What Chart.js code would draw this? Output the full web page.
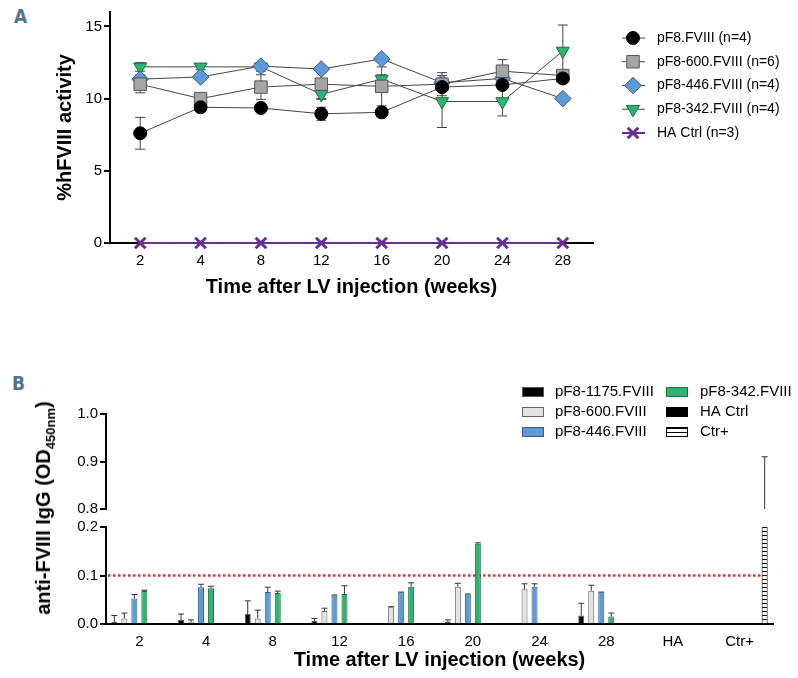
<!doctype html>
<html>
<head>
<meta charset="utf-8">
<title>hFVIII activity and anti-FVIII IgG</title>
<script src="https://cdn.jsdelivr.net/npm/chart.js@4.4.1/dist/chart.umd.min.js"></script>
<style>
  body { margin: 0; background: #fff; }
  #wrap { position: relative; width: 798px; height: 678px; overflow: hidden; font-family: 'Liberation Sans', Arial, sans-serif; }
  #wrap canvas { position: absolute; left: 0; }
  .panel { position: absolute; font-family: 'DejaVu Sans Condensed', 'DejaVu Sans', sans-serif; font-weight: bold; font-size: 19px; color: #4f7391; }
  #ytitleB { position: absolute; left: 45px; top: 508px; transform: translate(-50%, -50%) rotate(-90deg); white-space: nowrap; font-weight: bold; font-size: 20px; color: #000; }
  #ytitleB sub { font-size: 13px; }
</style>
</head>
<body>
<div id="wrap">
  <div class="panel" style="left:14px; top:5px;">A</div>
  <div class="panel" style="left:12px; top:372px;">B</div>
  <canvas id="chartA" width="798" height="310" style="top:0px"></canvas>
  <canvas id="chartB2" width="798" height="163" style="top:515px"></canvas>
  <canvas id="chartB1" width="798" height="140" style="top:380px"></canvas>
  <div id="ytitleB">anti-FVIII IgG (OD<sub>450nm</sub>)</div>
</div>
<script>
// ---- panel A : %hFVIII activity ----
var weeks = ['2', '4', '8', '12', '16', '20', '24', '28'];
var activityTicks = [0, 5, 10, 15];

var pF8Act      = [7.6, 9.4, 9.35, 8.95, 9.05, 10.8, 10.95, 11.4];
var pF8Err      = [1.1, 0.2, 0.2, 0.45, 0.3, 0.3, 0.3, 0.3];
var pF8_600Act  = [11.0, 10.0, 10.8, 11.0, 10.85, 11.0, 11.9, 11.6];
var pF8_600Err  = [0.6, 0.3, 0.85, 1.0, 1.35, 0.8, 0.8, 0.3];
var pF8_446Act  = [11.35, 11.5, 12.25, 12.05, 12.75, 11.1, 11.4, 10.0];
var pF8_446Err  = [0.3, 0.2, 0.2, 0.2, 0.2, 0.2, 0.3, 0.2];
var pF8_342Act  = [12.2, 12.2, 12.2, 10.3, 11.35, 9.8, 9.8, 13.3];
var pF8_342Err  = [0.3, 0.2, 0.3, 0.35, 0.3, 1.8, 1.0, 1.8];
var haCtrlAct   = [0, 0, 0, 0, 0, 0, 0, 0];
var haCtrlErr   = [0, 0, 0, 0, 0, 0, 0, 0];

// ---- panel B : anti-FVIII IgG ----
var groupsB = ['2', '4', '8', '12', '16', '20', '24', '28', 'HA', 'Ctr+'];
var upperTicks = [0.8, 0.9, 1.0];
var lowerTicks = [0, 0.1, 0.2];
var cutoff = 0.1;

var igg1175   = [0.005, 0.009, 0.021, 0.007, 0.002, 0.005, 0.002, 0.018, null, null];
var igg1175Sd = [0.013, 0.012, 0.027, 0.005, 0, 0.004, 0, 0.025, 0, 0];
var igg600    = [0.012, 0.004, 0.012, 0.027, 0.035, 0.077, 0.072, 0.069, null, null];
var igg600Sd  = [0.011, 0.005, 0.017, 0.006, 0.001, 0.007, 0.011, 0.011, 0, 0];
var igg446    = [0.053, 0.076, 0.066, 0.059, 0.065, 0.061, 0.077, 0.065, null, null];
var igg446Sd  = [0.008, 0.006, 0.010, 0.001, 0.001, 0.001, 0.006, 0.001, 0, 0];
var igg342    = [0.068, 0.074, 0.064, 0.062, 0.077, 0.165, null, 0.016, null, null];
var igg342Sd  = [0.002, 0.004, 0.004, 0.017, 0.008, 0.002, 0, 0.007, 0, 0];
var iggHA     = [null, null, null, null, null, null, null, null, 0, null];
var iggHASd   = [0, 0, 0, 0, 0, 0, 0, 0, 0, 0];
var iggPos    = [null, null, null, null, null, null, null, null, null, 0.55];
var iggPosSd  = [0, 0, 0, 0, 0, 0, 0, 0, 0, 0.36];

Chart.defaults.font.family = "'Liberation Sans', Arial, sans-serif";
Chart.defaults.color = '#000';

var errA = [pF8Err, pF8_600Err, pF8_446Err, pF8_342Err, haCtrlErr];
var errB = [igg1175Sd, igg600Sd, igg446Sd, igg342Sd, iggHASd, iggPosSd];

function hatch() {
    var c = document.createElement('canvas');
    c.width = 8; c.height = 4;
    var g = c.getContext('2d');
    g.fillStyle = '#fff'; g.fillRect(0, 0, 8, 4);
    g.fillStyle = '#000'; g.fillRect(0, 0, 8, 1);
    return g.createPattern(c, 'repeat');
}

function lineSet(label, data, style, radius, fill, border, bw, rot, lineCol, lineW) {
    return {
        label: label, data: data,
        borderColor: lineCol || '#444', borderWidth: lineW || 1, tension: 0,
        pointStyle: style, pointRadius: radius, pointHoverRadius: radius,
        pointRotation: rot || 0,
        pointBackgroundColor: fill, pointBorderColor: border, pointBorderWidth: bw,
        clip: false
    };
}

// error bars drawn under the markers
var errorBarsA = {
    id: 'errorBarsA',
    beforeDatasetsDraw: function(chart) {
        var ctx = chart.ctx, y = chart.scales.y;
        ctx.save();
        ctx.strokeStyle = '#444';
        ctx.lineWidth = 1;
        chart.data.datasets.forEach(function(ds, i) {
            chart.getDatasetMeta(i).data.forEach(function(pt, j) {
                var e = errA[i][j];
                if (!e) return;
                var t = y.getPixelForValue(ds.data[j] + e);
                var b = y.getPixelForValue(ds.data[j] - e);
                ctx.beginPath();
                ctx.moveTo(pt.x, t); ctx.lineTo(pt.x, b);
                ctx.moveTo(pt.x - 5, t); ctx.lineTo(pt.x + 5, t);
                ctx.moveTo(pt.x - 5, b); ctx.lineTo(pt.x + 5, b);
                ctx.stroke();
            });
        });
        ctx.restore();
    }
};

var legendA = {
    id: 'legendA',
    afterDraw: function(chart) {
        var ctx = chart.ctx;
        ctx.save();
        chart.data.datasets.forEach(function(ds, i) {
            var y = 38 + i * 23.75;
            ctx.strokeStyle = ds.borderColor;
            ctx.lineWidth = ds.borderWidth;
            ctx.beginPath(); ctx.moveTo(622, y); ctx.lineTo(645, y); ctx.stroke();
            ctx.fillStyle = ds.pointBackgroundColor;
            ctx.strokeStyle = ds.pointBorderColor;
            ctx.lineWidth = ds.pointBorderWidth;
            Chart.helpers.drawPoint(ctx, {
                pointStyle: ds.pointStyle, radius: ds.pointRadius,
                rotation: ds.pointRotation, borderWidth: ds.pointBorderWidth
            }, 633, y);
            ctx.fillStyle = '#000';
            ctx.font = "14px 'Liberation Sans', Arial, sans-serif";
            ctx.textBaseline = 'middle';
            ctx.fillText(ds.label, 657, y);
        });
        ctx.restore();
    }
};

new Chart(document.getElementById('chartA').getContext('2d'), {
    type: 'line',
    data: {
        labels: weeks,
        datasets: [
            lineSet('pF8.FVIII (n=4)', pF8Act, 'circle', 6.5, '#000', '#000', 1),
            lineSet('pF8-600.FVIII (n=6)', pF8_600Act, 'rect', 8.8, '#a5a5a8', '#555', 1),
            lineSet('pF8-446.FVIII (n=4)', pF8_446Act, 'rectRot', 8.3, '#5e9bd6', '#2f6199', 1),
            lineSet('pF8-342.FVIII (n=4)', pF8_342Act, 'triangle', 7.6, '#2eb371', '#1d6e44', 1, 180),
            lineSet('HA Ctrl (n=3)', haCtrlAct, 'crossRot', 7.5, '#6b2d90', '#6b2d90', 3, 0, '#6b2d90', 2)
        ]
    },
    options: {
        responsive: false,
        animation: false,
        events: [],
        layout: { padding: { left: 49, right: 205, top: 12, bottom: 7 } },
        plugins: { legend: { display: false }, tooltip: { enabled: false } },
        scales: {
            x: {
                offset: true,
                grid: { display: false, drawTicks: false },
                border: { display: true, color: '#000', width: 2 },
                ticks: { font: { size: 15 }, padding: 9, maxRotation: 0 },
                title: { display: true, text: 'Time after LV injection (weeks)', font: { size: 20, weight: 'bold' } },
                afterFit: function(s) { s.height = 60; }
            },
            y: {
                min: 0, max: 16,
                afterBuildTicks: function(s) { s.ticks = activityTicks.map(function(v) { return { value: v }; }); },
                grid: { drawOnChartArea: false, drawTicks: true, tickLength: 6, color: '#000', lineWidth: 2 },
                border: { display: true, color: '#000', width: 2 },
                ticks: { font: { size: 15 }, padding: 2 },
                title: { display: true, text: '%hFVIII activity', font: { size: 20, weight: 'bold' } },
                afterFit: function(s) { s.width = 61; }
            }
        }
    },
    plugins: [errorBarsA, legendA]
});

// ---- panel B, broken y axis: two stacked charts ----
var barColors = ['#000', '#e2e2e2', '#5e9bd6', '#2eb371', '#000', hatch()];
var barBorders = ['#555', '#666', '#2f5f95', '#1d6e44', '#000', '#000'];
var barLabels = ['pF8-1175.FVIII', 'pF8-600.FVIII', 'pF8-446.FVIII', 'pF8-342.FVIII', 'HA Ctrl', 'Ctr+'];
var barData = [igg1175, igg600, igg446, igg342, iggHA, iggPos];

function barSets() {
    return barData.map(function(d, i) {
        return {
            label: barLabels[i], data: d,
            backgroundColor: barColors[i], borderColor: barBorders[i], borderWidth: 1,
            categoryPercentage: 0.9, barPercentage: 0.6, clip: 0
        };
    });
}

var errorBarsB = {
    id: 'errorBarsB',
    afterDatasetsDraw: function(chart) {
        var ctx = chart.ctx, y = chart.scales.y, a = chart.chartArea;
        ctx.save();
        ctx.beginPath(); ctx.rect(a.left, a.top - 1, a.right - a.left, a.bottom - a.top + 1); ctx.clip();
        ctx.strokeStyle = '#333';
        ctx.lineWidth = 1;
        chart.data.datasets.forEach(function(ds, i) {
            chart.getDatasetMeta(i).data.forEach(function(bar, j) {
                var v = ds.data[j], e = errB[i][j];
                if (v === null || !e) return;
                var b = y.getPixelForValue(v), t = y.getPixelForValue(v + e);
                var hw = bar.width / 2;
                ctx.beginPath();
                ctx.moveTo(bar.x, b); ctx.lineTo(bar.x, t);
                ctx.moveTo(bar.x - hw, t); ctx.lineTo(bar.x + hw, t);
                ctx.stroke();
            });
        });
        ctx.restore();
    }
};

var cutoffLine = {
    id: 'cutoffLine',
    beforeDatasetsDraw: function(chart) {
        var ctx = chart.ctx, y = chart.scales.y.getPixelForValue(cutoff);
        var last = chart.getDatasetMeta(barData.length - 1).data[groupsB.length - 1];
        ctx.save();
        ctx.strokeStyle = '#e5302b';
        ctx.lineWidth = 2.5;
        ctx.setLineDash([2.5, 2.5]);
        ctx.beginPath();
        ctx.moveTo(chart.chartArea.left + 2, y);
        ctx.lineTo(last.x + last.width / 2, y);
        ctx.stroke();
        ctx.restore();
    }
};

var legendB = {
    id: 'legendB',
    afterDraw: function(chart) {
        var ctx = chart.ctx;
        ctx.save();
        chart.data.datasets.forEach(function(ds, i) {
            var col = Math.floor(i / 3), row = i % 3;
            var sx = col ? 666 : 522, tx = col ? 700 : 555;
            var y = 12 + row * 20;
            ctx.fillStyle = ds.backgroundColor;
            ctx.fillRect(sx, y - 5, 22, 10);
            ctx.strokeStyle = ds.borderColor;
            ctx.lineWidth = 1;
            ctx.strokeRect(sx + 0.5, y - 4.5, 21, 9);
            ctx.fillStyle = '#000';
            ctx.font = "15px 'Liberation Sans', Arial, sans-serif";
            ctx.textBaseline = 'middle';
            ctx.fillText(ds.label, tx, y);
        });
        ctx.restore();
    }
};

function yAxisB(ticks) {
    return {
        min: ticks[0], max: ticks[ticks.length - 1],
        afterBuildTicks: function(s) { s.ticks = ticks.map(function(v) { return { value: v }; }); },
        grid: { drawOnChartArea: false, drawTicks: true, tickLength: 6, color: '#000', lineWidth: 2 },
        border: { display: true, color: '#000', width: 2 },
        ticks: { font: { size: 15 }, padding: 2, callback: function(v) { return v.toFixed(1); } },
        afterFit: function(s) { s.width = 106; }
    };
}

// upper part 0.8 - 1.0
new Chart(document.getElementById('chartB1').getContext('2d'), {
    type: 'bar',
    data: { labels: groupsB, datasets: barSets() },
    options: {
        responsive: false,
        animation: false,
        events: [],
        layout: { padding: { left: 0, right: 25, top: 34, bottom: 9.3 } },
        plugins: { legend: { display: false }, tooltip: { enabled: false } },
        scales: {
            x: { display: false },
            y: yAxisB(upperTicks)
        }
    },
    plugins: [errorBarsB, legendB]
});

// lower part 0 - 0.2
new Chart(document.getElementById('chartB2').getContext('2d'), {
    type: 'bar',
    data: { labels: groupsB, datasets: barSets() },
    options: {
        responsive: false,
        animation: false,
        events: [],
        layout: { padding: { left: 0, right: 25, top: 11.7, bottom: 1.3 } },
        plugins: { legend: { display: false }, tooltip: { enabled: false } },
        scales: {
            x: {
                grid: { display: false, drawTicks: false },
                border: { display: true, color: '#000', width: 2 },
                ticks: { font: { size: 15 }, padding: 9, maxRotation: 0 },
                title: { display: true, text: 'Time after LV injection (weeks)', font: { size: 20, weight: 'bold' } },
                afterFit: function(s) { s.height = 52.4; }
            },
            y: yAxisB(lowerTicks)
        }
    },
    plugins: [cutoffLine, errorBarsB]
});
</script>
</body>
</html>
